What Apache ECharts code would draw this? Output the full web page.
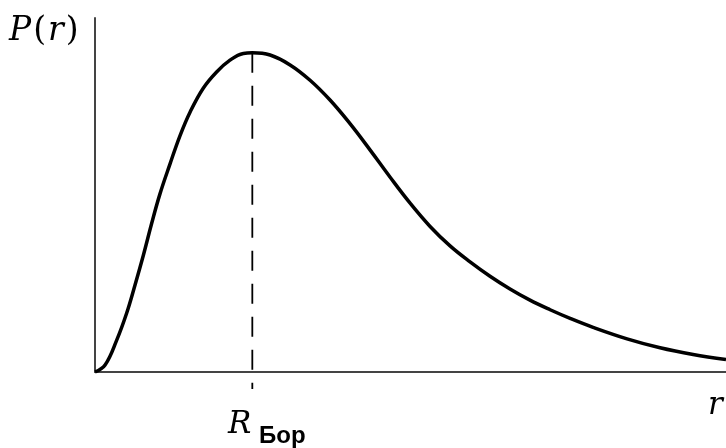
<!DOCTYPE html>
<html>
<head>
<meta charset="utf-8">
<script src="https://cdn.jsdelivr.net/npm/echarts@6/dist/echarts.min.js"></script>
<style>
  html, body { margin: 0; padding: 0; background: #fff; }
  #chart { width: 726px; height: 448px; }
</style>
</head>
<body>
<div id="chart"></div>
<script>
// Radial probability P(r), r in units of the Bohr radius, P normalised to its peak
const rValues = [0, 0.064, 0.138, 0.2015, 0.254, 0.307, 0.36, 0.413, 0.477, 0.54, 0.604, 0.688,
  0.773, 0.858, 0.943, 1.0, 1.113, 1.24, 1.367, 1.494, 1.621, 1.748, 1.875, 2.003, 2.13, 2.257,
  2.384, 2.511, 2.638, 2.765, 2.893, 3.02, 3.166, 3.382, 3.592, 3.802, 4.011];
const pValues = [0, 0.022, 0.1, 0.185, 0.272, 0.365, 0.465, 0.558, 0.652, 0.74, 0.814, 0.889,
  0.94, 0.977, 0.998, 1.0, 0.993, 0.962, 0.914, 0.852, 0.778, 0.696, 0.611, 0.529, 0.456, 0.395,
  0.345, 0.3, 0.26, 0.225, 0.195, 0.168, 0.14, 0.104, 0.076, 0.055, 0.039];
// Bohr radius marker: from the peak down past the r axis
const bohrR = 1.0;
const bohrLine = [[bohrR, 1.0], [bohrR, -0.053]];

const chart = echarts.init(document.getElementById('chart'), null, { renderer: 'canvas' });
const mathFont = '"DejaVu Serif", "Liberation Serif", serif';

chart.setOption({
  animation: false,
  backgroundColor: '#ffffff',
  grid: { left: 95, right: 0, top: 18, bottom: 76 },
  xAxis: {
    type: 'value', min: 0, max: 4.011,
    axisLine: { show: true, onZero: false, lineStyle: { color: '#444', width: 2 } },
    axisTick: { show: false }, axisLabel: { show: false }, splitLine: { show: false }
  },
  yAxis: {
    type: 'value', min: 0, max: 1.109,
    axisLine: { show: true, lineStyle: { color: '#444', width: 2 } },
    axisTick: { show: false }, axisLabel: { show: false }, splitLine: { show: false }
  },
  series: [
    {
      type: 'line',
      data: rValues.map((r, i) => [r, pValues[i]]),
      smooth: 0.4,
      showSymbol: false,
      clip: false,
      lineStyle: { color: '#000', width: 3.5 }
    },
    {
      type: 'line',
      data: bohrLine,
      showSymbol: false,
      clip: false,
      lineStyle: { color: '#000', width: 1.8, type: [20, 13] }
    }
  ],
  graphic: [
    {
      type: 'text', left: 9, top: 15,
      style: {
        text: '{i|P}{n|(}{i|r}{n|)}',
        rich: {
          i: { fontFamily: mathFont, fontStyle: 'italic', fontSize: 33, fill: '#000', padding: [0, 1] },
          n: { fontFamily: mathFont, fontSize: 33, fill: '#000', padding: [0, 1] }
        }
      }
    },
    {
      type: 'text', left: 708, top: 390,
      style: { text: 'r', fontFamily: mathFont, fontStyle: 'italic', fontSize: 31, fill: '#000' }
    },
    {
      type: 'text', left: 228, top: 409,
      style: { text: 'R', fontFamily: mathFont, fontStyle: 'italic', fontSize: 31, fill: '#000' }
    },
    {
      type: 'text', left: 259, top: 424,
      style: { text: 'Бор', fontFamily: '"Liberation Sans", Arial, sans-serif', fontWeight: 'bold', fontSize: 24, fill: '#000' }
    }
  ]
});
</script>
</body>
</html>
